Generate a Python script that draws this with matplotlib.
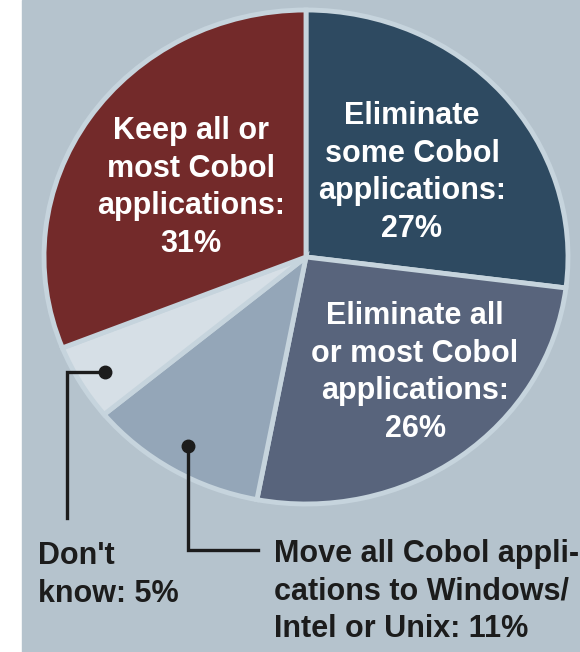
import matplotlib.pyplot as plt
from matplotlib.patches import Rectangle

# Cobol survey shares, clockwise from 12 o'clock
segments = ['Eliminate\nsome Cobol\napplications:',
            'Eliminate all\nor most Cobol\napplications:',
            'Move all Cobol appli-\ncations to Windows/\nIntel or Unix:',
            "Don't\nknow:",
            'Keep all or\nmost Cobol\napplications:']
shares = [27, 26, 11, 5, 31]
colors = ['#2e4a61', '#58647c', '#94a6b8', '#d6dfe6', '#732a2a']

BG = '#b5c3cd'
EDGE = '#c6d4dd'
INK = '#1c1c1c'
FONT = ['Liberation Sans', 'DejaVu Sans']
FS = 22
LS = 1.33

W, H = 580, 652
fig = plt.figure(figsize=(W / 100, H / 100), dpi=100)
fig.patches.append(Rectangle((22 / W, 0), 1 - 22 / W, 1, transform=fig.transFigure,
                             color=BG, zorder=-10))

# pie is a bit wider than tall in the original, so let the axes stretch it
cx, cy, rx, ry = 306, 257, 262, 247
ax = fig.add_axes([(cx - rx) / W, (H - cy - ry) / H, 2 * rx / W, 2 * ry / H])
ax.pie(shares, colors=colors, startangle=90, counterclock=False, radius=1,
       wedgeprops=dict(edgecolor=EDGE, linewidth=3.5))
ax.set_aspect('auto')
ax.set_xlim(-1, 1)
ax.set_ylim(-1, 1)
ax.axis('off')

# overlay in pixel coordinates for labels and callouts
ov = fig.add_axes([0, 0, 1, 1])
ov.set_xlim(0, W)
ov.set_ylim(H, 0)
ov.axis('off')

def label(i):
    return f'{segments[i]} {shares[i]}%' if i in (2, 3) else f'{segments[i]}\n{shares[i]}%'

# anchor = (x, baseline of last line)
inside = {0: (412, 237), 1: (415, 437), 4: (191, 252)}
for i, (x, y) in inside.items():
    ov.text(x, y, label(i), ha='center', va='baseline', color='white', fontsize=FS,
            fontweight='bold', family=FONT, linespacing=LS, multialignment='center')

ov.text(38, 602, label(3), ha='left', va='baseline', color=INK, fontsize=FS,
        fontweight='bold', family=FONT, linespacing=LS)
ov.text(274, 637, label(2), ha='left', va='baseline', color=INK, fontsize=FS,
        fontweight='bold', family=FONT, linespacing=LS)

ov.plot([105, 67, 67], [372, 372, 518], color=INK, lw=2.4, solid_joinstyle='miter')
ov.plot([188, 188, 258], [446, 550, 550], color=INK, lw=2.4, solid_joinstyle='miter')
ov.plot([105, 188], [372, 446], 'o', color=INK, ms=9, ls='none')

fig.savefig('out.png', dpi=100, facecolor='white')
